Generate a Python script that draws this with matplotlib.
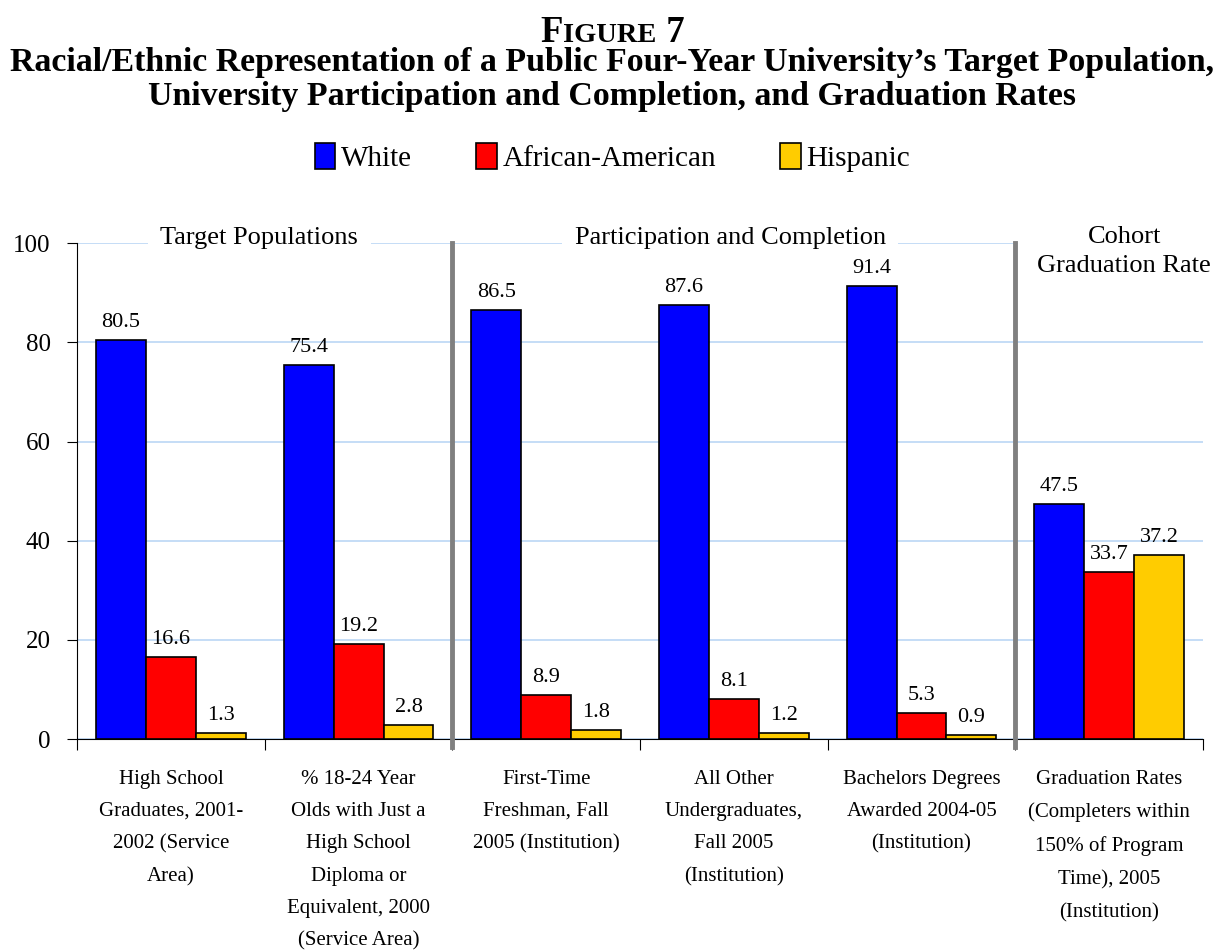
import numpy as np
import matplotlib.pyplot as plt
from matplotlib.patches import Patch

plt.rcParams['font.family'] = ['Liberation Serif', 'DejaVu Serif']

categories = [
    "High School\nGraduates, 2001-\n2002 (Service\nArea)",
    "% 18-24 Year\nOlds with Just a\nHigh School\nDiploma or\nEquivalent, 2000\n(Service Area)",
    "First-Time\nFreshman, Fall\n2005 (Institution)",
    "All Other\nUndergraduates,\nFall 2005\n(Institution)",
    "Bachelors Degrees\nAwarded 2004-05\n(Institution)",
    "Graduation Rates\n(Completers within\n150% of Program\nTime), 2005\n(Institution)",
]
white = [80.5, 75.4, 86.5, 87.6, 91.4, 47.5]
african_american = [16.6, 19.2, 8.9, 8.1, 5.3, 33.7]
hispanic = [1.3, 2.8, 1.8, 1.2, 0.9, 37.2]
series_names = ["White", "African-American", "Hispanic"]
colors = ["#0000FF", "#FF0000", "#FFCC00"]
sections = ["Target Populations", "Participation and Completion", "Cohort\nGraduation Rate"]


def main():
    fig = plt.figure(figsize=(12.25, 9.5), dpi=100)
    ax = fig.add_axes([0.063, 0.222, 0.919, 0.522])

    x = np.arange(len(categories))
    w = 0.266
    for i, (vals, name, col) in enumerate(zip([white, african_american, hispanic], series_names, colors)):
        pos = x + (i - 1) * w
        ax.bar(pos, vals, width=w, color=col, edgecolor="black", linewidth=1.2, zorder=3)
        for p, v in zip(pos, vals):
            ax.text(p, v + 1.6, f"{v:.1f}", ha="center", va="bottom", fontsize=16, zorder=8)

    ax.set_xlim(-0.5, len(categories) - 0.5)
    ax.set_ylim(0, 100)
    ax.set_yticks(range(0, 101, 20))
    ax.tick_params(axis="y", labelsize=18, length=7, direction="out", pad=12)
    ax.yaxis.grid(True, color="#BBD7F5", linewidth=1.2, zorder=0)

    # category ticks sit at group boundaries
    ax.set_xticks(np.arange(-0.5, len(categories), 1.0))
    ax.set_xticklabels([])
    ax.tick_params(axis="x", length=8, direction="out")
    ax.set_xticks(x, minor=True)
    ax.set_xticklabels(categories, minor=True, fontsize=15, linespacing=1.95, va="top")
    ax.tick_params(axis="x", which="minor", length=0, pad=22)

    for s in ["top", "right"]:
        ax.spines[s].set_visible(False)

    # section separators
    for sep in [1.5, 4.5]:
        ax.plot([sep, sep], [-1.5, 100], color="#808080", linewidth=3.5, zorder=7, clip_on=False)

    # section headers with white boxes over the 100 gridline
    sec_x = [0.47, 2.98, 5.08]
    sec_y = [101, 101, 98.3]
    sec_pad = [9, 9, 14]
    for sx, sy, pd, label in zip(sec_x, sec_y, sec_pad, sections):
        ax.text(sx, sy, label, ha="center", va="center", fontsize=19, linespacing=1.45, zorder=5,
                bbox=dict(facecolor="white", edgecolor="none", pad=pd))

    # title with small caps "FIGURE 7"
    renderer = fig.canvas.get_renderer()
    pieces = [("F", 26.5), ("IGURE", 20.5), (" 7", 26.5)]
    texts = []
    widths = []
    for s, fs in pieces:
        t = fig.text(0, 0.956, s, fontsize=fs, fontweight="bold", ha="left", va="baseline")
        texts.append(t)
        widths.append(t.get_window_extent(renderer).width / fig.bbox.width)
    start = 0.5 - sum(widths) / 2
    for t, wd in zip(texts, widths):
        t.set_x(start)
        start += wd

    fig.text(0.5, 0.916, "Racial/Ethnic Representation of a Public Four-Year University\u2019s Target Population,\n"
             "University Participation and Completion, and Graduation Rates",
             ha="center", va="center", fontsize=24.4, fontweight="bold", linespacing=1.12)

    handles = [Patch(facecolor=c, edgecolor="black", linewidth=1.2) for c in colors]
    fig.legend(handles, series_names, loc="center", bbox_to_anchor=(0.5, 0.834), ncol=3,
               frameon=False, fontsize=21, handlelength=0.7, handleheight=1.0,
               handletextpad=0.2, columnspacing=2.2)

    fig.savefig("out.png", dpi=100)


if __name__ == "__main__":
    main()
